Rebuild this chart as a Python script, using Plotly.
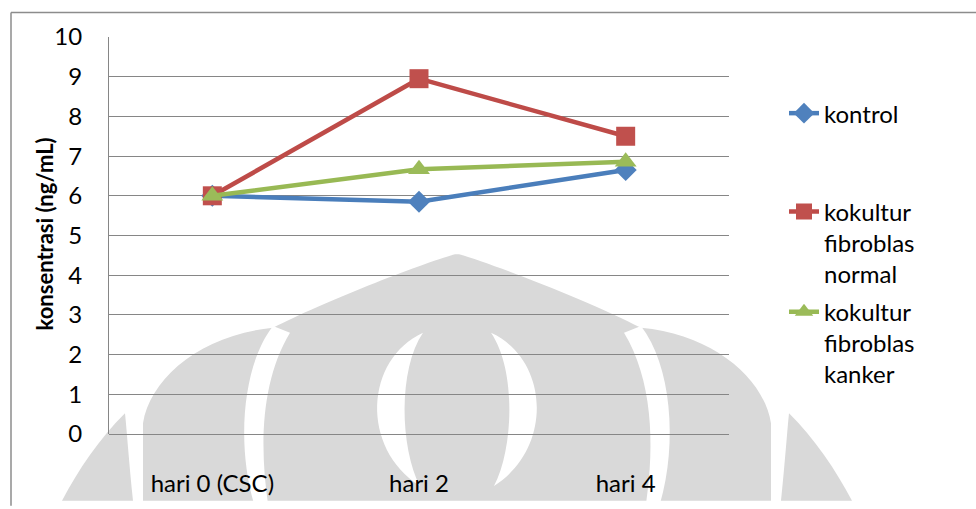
import re
import plotly.graph_objects as go

# Concentration over time for the three culture conditions
categories = ["hari 0 (CSC)", "hari 2", "hari 4"]
kontrol = [6.0, 5.85, 6.65]
kokultur_normal = [6.0, 8.95, 7.5]
kokultur_kanker = [6.0, 6.67, 6.86]
y_ticks = list(range(0, 11))

series_names = ["kontrol", "kokultur<br>fibroblas<br>normal", "kokultur<br>fibroblas<br>kanker"]
series_values = [kontrol, kokultur_normal, kokultur_kanker]
line_colors = ["#4A7EBB", "#BE4B48", "#98B954"]
marker_colors = ["#4F81BD", "#C0504D", "#9BBB59"]
marker_symbols = ["diamond", "square", "triangle-up"]
marker_sizes = [17, 19, 19]
legend_ids = ["legend", "legend2", "legend3"]
y_title = "konsentrasi (ng/mL)"

FONT = "Lato, 'Open Sans', sans-serif"
W, H = 976, 509
L, R, T, B = 109, 729, 37, 441  # plot-area edges in pixels


def px(x):
    return (x - L) / (R - L)


def py(y):
    return (B - y) / (B - T)


def to_paper(path):
    """Convert an SVG path written in pixel units to paper units."""
    def conv(m):
        x, y = float(m.group(1)), float(m.group(2))
        return f"{px(x):.5f},{py(y):.5f}"
    return re.sub(r"(-?\d+(?:\.\d+)?),(-?\d+(?:\.\d+)?)", conv, path)


def mirror(path, cx=457):
    def conv(m):
        x, y = float(m.group(1)), float(m.group(2))
        return f"{2 * cx - x:g},{y:g}"
    return re.sub(r"(-?\d+(?:\.\d+)?),(-?\d+(?:\.\d+)?)", conv, path)


fig = go.Figure()
for name, vals, lc, mc, sym, ms, lg in zip(series_names, series_values, line_colors,
                                           marker_colors, marker_symbols, marker_sizes,
                                           legend_ids):
    fig.add_trace(go.Scatter(
        x=categories, y=vals, name=name, mode="lines+markers",
        line=dict(color=lc, width=4.5),
        marker=dict(color=mc, symbol=sym, size=ms, line=dict(width=0)),
        legend=lg,
    ))

# Faint emblem behind the plot
GREY = "#d9d9d9"
body = ("M455,258 C420,268 320,308 273,333 C200,340 150,385 143,430 "
        "L143,509 L771,509 L771,430 C764,385 714,340 641,333 "
        "C594,308 494,268 459,258 Z")
far_left = "M125,420 C100,445 78,478 62,509 L133,509 C129,470 127,440 125,420 Z"
crescent_left = "M273,331 C243,370 236,450 254,512 L268,512 C259,450 262,385 290,338 Z"
lens_left = "M423,338 C365,365 360,455 420,494 C400,455 398,375 423,338 Z"

shapes = []
for p in [body, far_left, mirror(far_left)]:
    shapes.append(dict(type="path", path=to_paper(p), xref="paper", yref="paper",
                       fillcolor=GREY, line=dict(width=0), layer="below"))
for p in [crescent_left, mirror(crescent_left), lens_left, mirror(lens_left)]:
    shapes.append(dict(type="path", path=to_paper(p), xref="paper", yref="paper",
                       fillcolor="white", line=dict(width=0), layer="below"))

# Chart frame (top and left edges)
BORDER = "#8c8c8c"
shapes.append(dict(type="line", xref="paper", yref="paper",
                   x0=px(11), x1=px(W + 5), y0=py(12), y1=py(12),
                   line=dict(color=BORDER, width=1.5)))
shapes.append(dict(type="line", xref="paper", yref="paper",
                   x0=px(11), x1=px(11), y0=py(12), y1=py(H + 5),
                   line=dict(color=BORDER, width=1.5)))

LEG_FONT = dict(family=FONT, size=24, color="#000000")


def legend_box(top_px):
    return dict(x=px(784), y=py(top_px), xanchor="left", yanchor="top",
                font=LEG_FONT, bgcolor="rgba(0,0,0,0)", borderwidth=0,
                valign="top", itemsizing="trace")


GRID = "#868686"
fig.update_layout(
    width=W, height=H,
    margin=dict(l=L, r=W - R, t=T, b=H - B, pad=0),
    paper_bgcolor="white",
    plot_bgcolor="rgba(0,0,0,0)",
    font=dict(family=FONT, size=24, color="#000000"),
    shapes=shapes,
    showlegend=True,
    legend=legend_box(92),
    legend2=legend_box(192),
    legend3=legend_box(294),
    annotations=[dict(
        text=f"<b>{y_title}</b>", textangle=-90, showarrow=False,
        xref="paper", yref="paper", x=px(45), y=py(238),
        xanchor="center", yanchor="middle",
        font=dict(family=FONT, size=22, color="#000000"),
    )],
    xaxis=dict(
        type="category", categoryorder="array", categoryarray=categories,
        range=[-0.5, 2.5], showgrid=False, showline=False, zeroline=False,
        ticks="", ticklabelstandoff=33, tickfont=dict(size=24),
        fixedrange=True,
    ),
    yaxis=dict(
        range=[0, 10], tickvals=y_ticks, ticktext=[str(v) for v in y_ticks],
        showgrid=True, gridcolor=GRID, gridwidth=1,
        showline=True, linecolor=GRID, linewidth=1, mirror=False,
        zeroline=True, zerolinecolor=GRID, zerolinewidth=1,
        ticks="", ticklabelstandoff=21, tickfont=dict(size=24),
        fixedrange=True,
    ),
)

fig.write_html("out.html")
